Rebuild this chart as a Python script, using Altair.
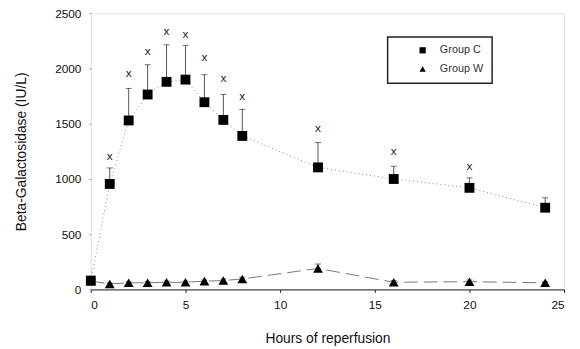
import altair as alt
import pandas as pd

hours = [0, 1, 2, 3, 4, 5, 6, 7, 8, 12, 16, 20, 24]
group_c = [80, 955, 1530, 1765, 1880, 1900, 1695, 1535, 1390, 1105, 1000, 920, 740]
group_c_top = [110, 1100, 1820, 2035, 2215, 2210, 1945, 1765, 1630, 1330, 1115, 1010, 830]
group_w = [75, 50, 60, 60, 65, 65, 75, 80, 95, 190, 65, 70, 60]
group_w_top = [90, 60, 70, 70, 75, 75, 85, 95, 110, 230, 80, 85, 70]
sig_hours = [1, 2, 3, 4, 5, 6, 7, 8, 12, 16, 20]
sig_y = [1205, 1955, 2160, 2340, 2310, 2105, 1910, 1750, 1465, 1250, 1115]

rows = []
for h, m, t in zip(hours, group_c, group_c_top):
    rows.append({"h": h, "v": m, "top": t, "g": "Group C"})
for h, m, t in zip(hours, group_w, group_w_top):
    rows.append({"h": h, "v": m, "top": t, "g": "Group W"})
df = pd.DataFrame(rows)
dc = df[df.g == "Group C"]
dw = df[df.g == "Group W"]
sig = pd.DataFrame({"h": sig_hours, "y": sig_y, "t": ["x"] * len(sig_hours)})

xs = alt.Scale(domain=[0, 25], nice=False, zero=False)
ys = alt.Scale(domain=[0, 2500], nice=False)

xax = alt.Axis(values=[0, 5, 10, 15, 20, 25], title="Hours of reperfusion", grid=False,
               domainColor="#222", tickColor="#222", tickSize=3, labelPadding=7,
               labelFontSize=12, titleFontSize=14, titleFontWeight="normal",
               titlePadding=22, labelColor="#111", titleColor="#111", format="d")
yax = alt.Axis(values=[0, 500, 1000, 1500, 2000, 2500], title="Beta-Galactosidase (IU/L)",
               grid=False, domain=False, tickColor="#999", tickSize=2, labelPadding=8,
               labelFontSize=12, titleFontSize=14, titleFontWeight="normal",
               titlePadding=27, labelColor="#111", titleColor="#111", format="d")

X = alt.X("h:Q", scale=xs, axis=xax)
Y = alt.Y("v:Q", scale=ys, axis=yax)

line_c = alt.Chart(dc).mark_line(color="#888", strokeDash=[1, 3], strokeWidth=1).encode(x=X, y=Y)
line_w = alt.Chart(dw).mark_line(color="#777", strokeDash=[14, 6], strokeWidth=1).encode(x=X, y=Y)

err = alt.Chart(df).mark_rule(color="#555", strokeWidth=1).encode(
    x=X, y=Y, y2="top:Q")
cap = alt.Chart(df).mark_tick(color="#333", size=6, thickness=1, orient="horizontal").encode(
    x=X, y=alt.Y("top:Q", scale=ys))

pts = alt.Chart(df).mark_point(filled=True, opacity=1, size=100, color="black").encode(
    x=X, y=Y,
    shape=alt.Shape("g:N", scale=alt.Scale(domain=["Group C", "Group W"],
                                            range=["square", "triangle-up"]),
                    legend=alt.Legend(title=None, orient="none", legendX=301, legendY=24,
                                      strokeColor="#222", padding=8,
                                      symbolSize=40, symbolOffset=22,
                                      labelFontSize=11, rowPadding=6, symbolFillColor="black",
                                      symbolStrokeColor="black", labelOffset=12,
                                      labelColor="#333", labelLimit=200)))

marks = alt.Chart(sig).mark_text(fontSize=12, color="#222", font="Liberation Sans").encode(
    x=alt.X("h:Q", scale=xs), y=alt.Y("y:Q", scale=ys), text="t:N")

chart = alt.layer(line_c, line_w, err, cap, pts, marks).properties(
    width=480, height=280,
    autosize=alt.AutoSizeParams(type="none"),
    padding={"left": 84, "top": 3, "right": 8, "bottom": 58},
).configure_view(stroke=None).configure(font="Liberation Sans").configure_legend(strokeWidth=1.5)

chart.save("out.html", embed_options={"renderer": "svg", "actions": False})
